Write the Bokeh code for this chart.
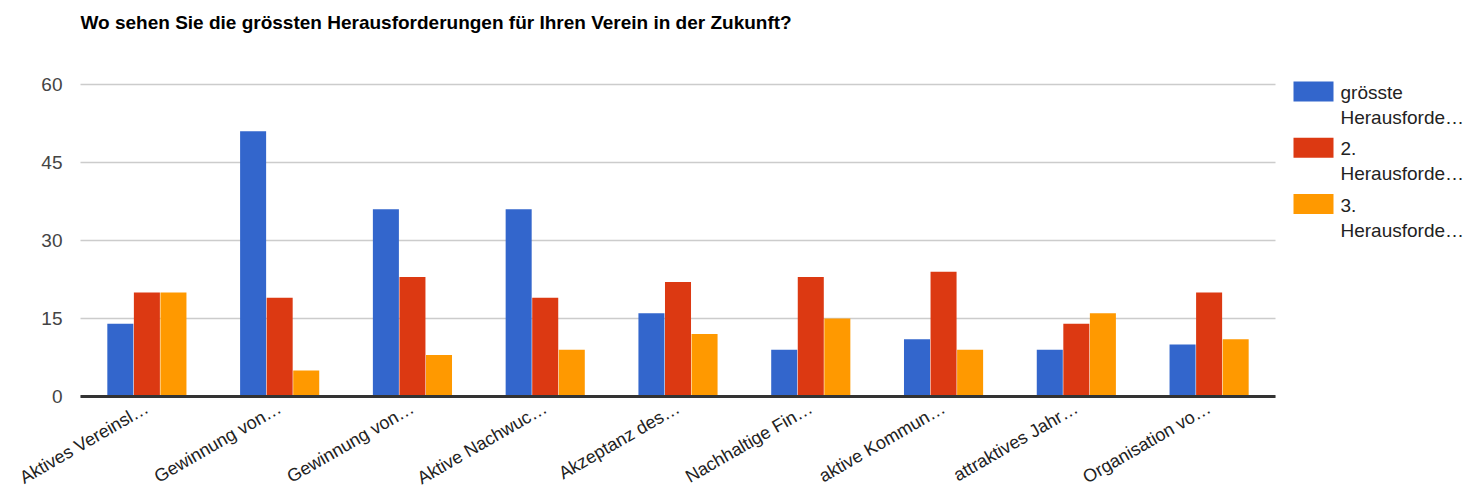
from bokeh.plotting import figure
from bokeh.models import Range1d, ColumnDataSource
from bokeh.transform import dodge
from bokeh.core.properties import value
from bokeh.embed import file_html
from bokeh.resources import INLINE
import math

title = "Wo sehen Sie die grössten Herausforderungen für Ihren Verein in der Zukunft?"
categories = ["Aktives Vereinsl…", "Gewinnung von…", "Gewinnung von…", "Aktive Nachwuc…",
              "Akzeptanz des…", "Nachhaltige Fin…", "aktive Kommun…", "attraktives Jahr…",
              "Organisation vo…"]
series_names = ["grösste\nHerausforde…", "2.\nHerausforde…", "3.\nHerausforde…"]
s1 = [14, 51, 36, 36, 16, 9, 11, 9, 10]
s2 = [20, 19, 23, 19, 22, 23, 24, 14, 20]
s3 = [20, 5, 8, 9, 12, 15, 9, 16, 11]
colors = ["#3366CC", "#DC3912", "#FF9900"]
y_ticks = [0, 15, 30, 45, 60]
y_max = 60

FONT = "Liberation Sans"
W, H = 1467, 491
# plot area in page pixels
LEFT, TOP, FRAME_W, FRAME_H = 80, 84, 1195, 312
BASE = TOP + FRAME_H
n = len(categories)
cw = FRAME_W / n            # pixels per category
ppu = FRAME_H / y_max       # pixels per value unit


def dx(page_x):   # page pixel -> data x (layout helper)
    return -0.5 + (page_x - LEFT) / cw


def dy(page_y):   # page pixel -> data y (layout helper)
    return (BASE - page_y) / ppu


idx = list(range(n))
src = ColumnDataSource(dict(x=idx, s1=s1, s2=s2, s3=s3))

p = figure(width=W, height=H, output_backend="svg", toolbar_location=None,
           x_range=Range1d(dx(0), dx(W)), y_range=Range1d(dy(H), dy(0)),
           x_axis_location=None, y_axis_location=None,
           min_border_left=0, min_border_right=0, min_border_top=0, min_border_bottom=0)
p.grid.visible = False
p.outline_line_color = None

# gridlines
p.segment(x0=[-0.5] * len(y_ticks), x1=[n - 0.5] * len(y_ticks), y0=y_ticks, y1=y_ticks,
          line_color="#CCCCCC", line_width=1.5)

# bars
for key, off, col in zip(["s1", "s2", "s3"], [-0.2, 0.0, 0.2], colors):
    p.vbar(x=dodge("x", off, range=p.x_range), top=key, width=0.196, bottom=0,
           source=src, fill_color=col, line_color=None)

# baseline
p.segment(x0=[-0.5], x1=[n - 0.5], y0=[0], y1=[0], line_color="#333333", line_width=3)

# y tick labels
p.text(x=[-0.5] * len(y_ticks), y=y_ticks, text=[str(t) for t in y_ticks], x_offset=-18,
       text_align="right", text_baseline="middle", text_font=value(FONT),
       text_font_size="19px", text_color="#444444")

# category labels
p.text(x=idx, y=[0] * n, text=categories, angle=math.pi / 6, y_offset=10,
       text_align="right", text_baseline="middle", text_font=value(FONT),
       text_font_size="18px", text_color="#222222")

# title
p.text(x=[dx(LEFT)], y=[dy(22)], text=[title], text_align="left", text_baseline="middle",
       text_font=value(FONT), text_font_size="19px", text_font_style="bold",
       text_color="#000000")

# legend
step = 56.3
sw_page_y = [91 + step * i for i in range(len(series_names))]
p.rect(x=[dx(1313)] * len(series_names), y=[dy(v) for v in sw_page_y], width=40, height=20,
       width_units="screen", height_units="screen", fill_color=colors, line_color=None)
tx, ty, tt = [], [], []
for i, name in enumerate(series_names):
    for j, line in enumerate(name.split("\n")):
        tx.append(dx(1340))
        ty.append(dy(sw_page_y[i] + 1 + 25 * j))
        tt.append(line)
p.text(x=tx, y=ty, text=tt, text_align="left", text_baseline="middle",
       text_font=value(FONT), text_font_size="19px", text_color="#222222")

open("out.html", "w").write(file_html(p, INLINE))
